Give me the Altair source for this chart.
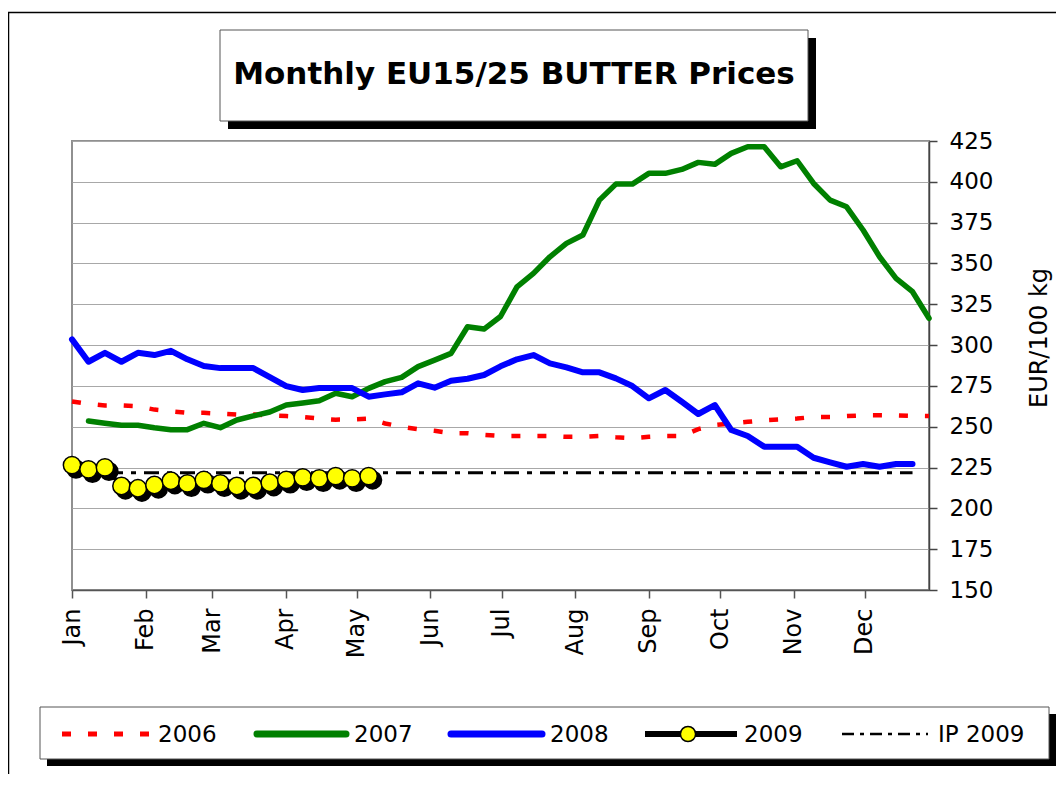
import altair as alt
import pandas as pd

months = ['Jan', 'Feb', 'Mar', 'Apr', 'May', 'Jun', 'Jul', 'Aug', 'Sep', 'Oct', 'Nov', 'Dec']
month_start_days = [0, 31, 59, 90, 120, 151, 181, 212, 243, 273, 304, 334]

# weekly prices, EUR/100 kg
v2006 = [265.5, 264, 263, 263, 262.5, 260.5, 259.5, 258.5, 258.5, 258, 257.5, 257.5, 257,
         256.5, 256, 255, 254.3, 254.5, 255, 252, 250, 248.5, 247.5, 246, 246, 245, 244.3,
         244.3, 244.3, 244.3, 243.8, 243.8, 244.3, 243.5, 243, 243.8, 244.3, 244.3, 248.5,
         251, 252, 253, 254, 254.5, 255, 256, 256, 256.5, 257, 257, 257, 256.7, 256.5]
v2007 = [253.5, 252.1, 250.9, 250.9, 249.4, 248.2, 248.2, 252.1, 249.4, 254.1, 256.6, 259,
         263.3, 264.5, 265.9, 270.5, 268.4, 273.5, 277.6, 280.2, 286.8, 290.8, 294.9, 311.2,
         309.8, 317.5, 335.7, 343.9, 354.1, 362.3, 367.4, 388.8, 398.6, 398.6, 405.2, 405.2,
         407.6, 411.9, 410.7, 417.4, 421.5, 421.5, 409.2, 412.9, 399, 388.8, 384.7, 370.5,
         354.1, 340.9, 332.7, 316.4]
v2008 = [303.5, 289.8, 295.3, 289.8, 295.3, 293.9, 296.5, 291.3, 287.2, 285.9, 285.9, 285.9,
         280.4, 274.9, 272.5, 273.7, 273.7, 273.7, 268.4, 269.8, 271.1, 276.6, 273.9, 278.2,
         279.4, 281.7, 287, 291.3, 293.9, 288.8, 286.4, 283.3, 283.3, 279.6, 274.9, 267.4,
         272.5, 265.3, 257.8, 263.3, 248, 244.3, 237.8, 237.8, 237.8, 231, 228.2, 225.5,
         227.2, 225.5, 227.2, 227.2]
v2009 = [226.5, 223.9, 225.1, 213.7, 212.3, 214.3, 216.9, 215.3, 217.4, 215.3, 213.7, 213.7,
         215.7, 217.4, 219, 218.4, 219.8, 218.4, 219.8]
ip_2009 = 221.75
ip_weeks = 52

start_week = {'2006': 0, '2007': 1, '2008': 0, '2009': 0}
series_values = {'2006': v2006, '2007': v2007, '2008': v2008, '2009': v2009,
                 'IP 2009': [ip_2009] * ip_weeks}
rows = []
for name, vals in series_values.items():
    s = start_week.get(name, 0)
    for i, v in enumerate(vals):
        rows.append({'week': s + i, 'value': v, 'series': name})
df = pd.DataFrame(rows)

FONT = 'DejaVu Sans'
tick_vals = [d * 52 / 361 for d in month_start_days]
label_expr = "[" + ",".join("'%s'" % m for m in months) + "][round(datum.value*361/52/30.4)]"

xenc = alt.X('week:Q', scale=alt.Scale(domain=[0, 52], nice=False, zero=False),
             axis=alt.Axis(values=tick_vals, labelExpr=label_expr, labelAngle=270,
                           labelAlign='right', labelBaseline='middle', tickSize=8,
                           labelPadding=10, labelFontSize=24, labelFont=FONT,
                           labelColor='black', grid=False, domainColor='#555555',
                           tickColor='#555555', domainWidth=1.5, tickWidth=1.5,
                           labelOverlap=False, labelBound=False, labelFlush=False),
             title=None)
yenc = alt.Y('value:Q', scale=alt.Scale(domain=[150, 425], nice=False, zero=False),
             axis=alt.Axis(orient='right', values=list(range(150, 426, 25)), tickSize=8,
                           labelPadding=12, labelFontSize=23, labelFont=FONT,
                           labelColor='black', grid=True, gridColor='#a8a8a8',
                           gridWidth=1.2, domainColor='#444444', tickColor='#444444',
                           domainWidth=1.5, tickWidth=1.5, labelOverlap=False,
                           labelFlush=False),
             title=None)

base = alt.Chart(df)


def series_line(name, **kw):
    return base.transform_filter(alt.datum.series == name).mark_line(**kw).encode(x=xenc, y=yenc)


l2006 = series_line('2006', color='#ff0000', strokeWidth=4.5, strokeDash=[9, 17])
l2007 = series_line('2007', color='#008000', strokeWidth=5.5, strokeCap='round', strokeJoin='round')
l2008 = series_line('2008', color='#0000ff', strokeWidth=6, strokeCap='round', strokeJoin='round')
lip = series_line('IP 2009', color='black', strokeWidth=3, strokeDash=[15, 8, 5, 8])
l2009 = series_line('2009', color='black', strokeWidth=4)
f2009 = base.transform_filter(alt.datum.series == '2009')
s2009 = f2009.mark_point(shape='circle', filled=True, fill='black', stroke='black', size=300,
                         opacity=1, xOffset=4, yOffset=4).encode(x=xenc, y=yenc)
p2009 = f2009.mark_point(shape='circle', filled=True, fill='#ffff00', stroke='black',
                         strokeWidth=1.5, size=300, opacity=1).encode(x=xenc, y=yenc)

one = alt.Chart(pd.DataFrame({'k': [0]}))


def box(x1, x2, y1, y2, **kw):
    return one.mark_rect(**kw).encode(x=alt.value(x1), x2=alt.value(x2),
                                      y=alt.value(y1), y2=alt.value(y2))


def hline(x1, x2, y, **kw):
    return one.mark_rule(**kw).encode(x=alt.value(x1), x2=alt.value(x2), y=alt.value(y))


def label(x, y, txt, size=23, **kw):
    return one.mark_text(text=txt, font=FONT, fontSize=size, color='black', **kw).encode(
        x=alt.value(x), y=alt.value(y))


frame = box(-63.5, 1200, -128.5, 1200, fill=None, filled=False, stroke='black', strokeWidth=1.5)

# title box
t_shadow = box(156, 744, -103, -12, color='black')
t_box = box(148, 736, -111, -20, fill='white', stroke='#555555', strokeWidth=1)
t_text = label(442, -66, 'Monthly EU15/25 BUTTER Prices', size=31, fontWeight='bold',
               align='center', baseline='middle')

# y axis title
y_title = label(968, 197, 'EUR/100 kg', size=24, angle=270, align='center', baseline='middle')

# legend
ly = 593
lg_shadow = box(-25, 984, 573, 625, color='black')
lg_box = box(-32, 977, 566, 618, fill='white', stroke='#555555', strokeWidth=1)
lg_2006 = hline(-10, 77, ly, color='#ff0000', strokeWidth=5, strokeDash=[9, 17])
lg_2007 = hline(185, 274, ly, color='#008000', strokeWidth=7, strokeCap='round')
lg_2008 = hline(379, 470, ly, color='#0000ff', strokeWidth=7, strokeCap='round')
lg_2009 = hline(573, 665, ly, color='black', strokeWidth=6)
lg_2009p = one.mark_point(shape='circle', filled=True, fill='#ffff00', stroke='black',
                          strokeWidth=1.5, size=230, opacity=1).encode(
    x=alt.value(616), y=alt.value(ly))
lg_ip = hline(770, 856, ly, color='black', strokeWidth=2.5, strokeDash=[12, 6, 4, 6])
lg_texts = [label(86, ly + 1, '2006', align='left', baseline='middle'),
            label(282, ly + 1, '2007', align='left', baseline='middle'),
            label(478, ly + 1, '2008', align='left', baseline='middle'),
            label(672, ly + 1, '2009', align='left', baseline='middle'),
            label(866, ly + 1, 'IP 2009', align='left', baseline='middle')]

chart = alt.layer(
    l2006, l2007, l2008, lip, l2009, s2009, p2009,
    frame, t_shadow, t_box, t_text, y_title,
    lg_shadow, lg_box, lg_2006, lg_2007, lg_2008, lg_2009, lg_2009p, lg_ip, *lg_texts
).properties(
    width=857, height=449,
    padding={'left': 64, 'top': 133, 'right': 127, 'bottom': 184},
    autosize=alt.AutoSizeParams(type='none'),
    background='white'
).configure_view(
    stroke='#909090', strokeWidth=2
)

chart.save('out.html', embed_options={'renderer': 'svg', 'actions': False})
